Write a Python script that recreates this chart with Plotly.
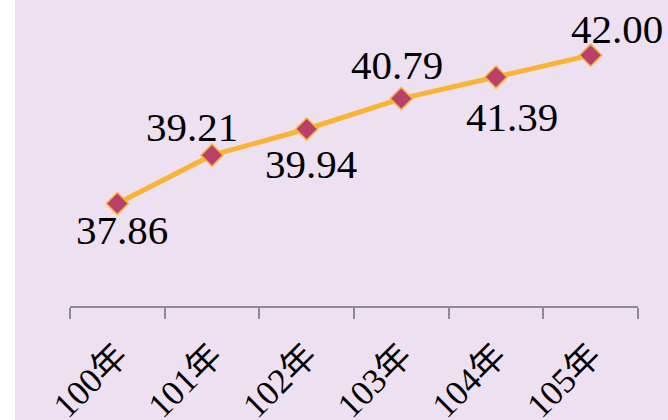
import plotly.graph_objects as go

categories = ["100年", "101年", "102年", "103年", "104年", "105年"]
values = [37.86, 39.21, 39.94, 40.79, 41.39, 42.00]
labels = ["37.86", "39.21", "39.94", "40.79", "41.39", "42.00"]

# label offsets in pixels (style)
label_dx = [5, -20, 4, -4, 16, 26]
label_dy = [-26, 28, -35, 34, -40, 26]

BG = "#EDE0F1"
LINE = "#FAB434"
MARK = "#B8406B"
AXIS = "#8C8C8C"

fig = go.Figure()
fig.add_trace(go.Scatter(
    x=categories, y=values, mode="lines+markers",
    line=dict(color=LINE, width=5),
    marker=dict(symbol="diamond", size=17, color=MARK, line=dict(color=LINE, width=1.5)),
    cliponaxis=False, hoverinfo="skip",
))

for c, v, t, dx, dy in zip(categories, values, labels, label_dx, label_dy):
    fig.add_annotation(x=c, y=v, text=t, showarrow=False, xshift=dx, yshift=dy,
                       xanchor="center", yanchor="middle",
                       font=dict(family="Liberation Serif", size=41, color="black"))

W, H = 668, 420
L, R, T, B = 70, 30, 0, 114
pw, ph = W - L - R, H - T - B
fig.add_shape(type="rect", xref="paper", yref="paper",
              x0=-L / pw, x1=(-L + 15) / pw, y0=-B / ph, y1=1 + T / ph,
              fillcolor="white", line=dict(width=0), layer="below")

fig.update_layout(
    width=W, height=H,
    margin=dict(l=L, r=R, t=T, b=B, autoexpand=False),
    paper_bgcolor=BG, plot_bgcolor=BG,
    showlegend=False,
    xaxis=dict(type="category", range=[-0.5, 5.5], tickson="boundaries",
               showline=True, linecolor=AXIS, linewidth=2,
               ticks="outside", ticklen=11, tickwidth=2, tickcolor=AXIS,
               showgrid=False, zeroline=False, tickangle=-45, automargin=False,
               ticklabelstandoff=13,
               tickfont=dict(family="Liberation Serif, Noto Sans CJK TC", size=35, color="black")),
    yaxis=dict(range=[35, 43.54], visible=False, showgrid=False, zeroline=False,
               automargin=False),
)

fig.write_html("out.html", config={"displayModeBar": False},
               post_script="document.body.style.margin='0';document.body.style.overflow='hidden';")
